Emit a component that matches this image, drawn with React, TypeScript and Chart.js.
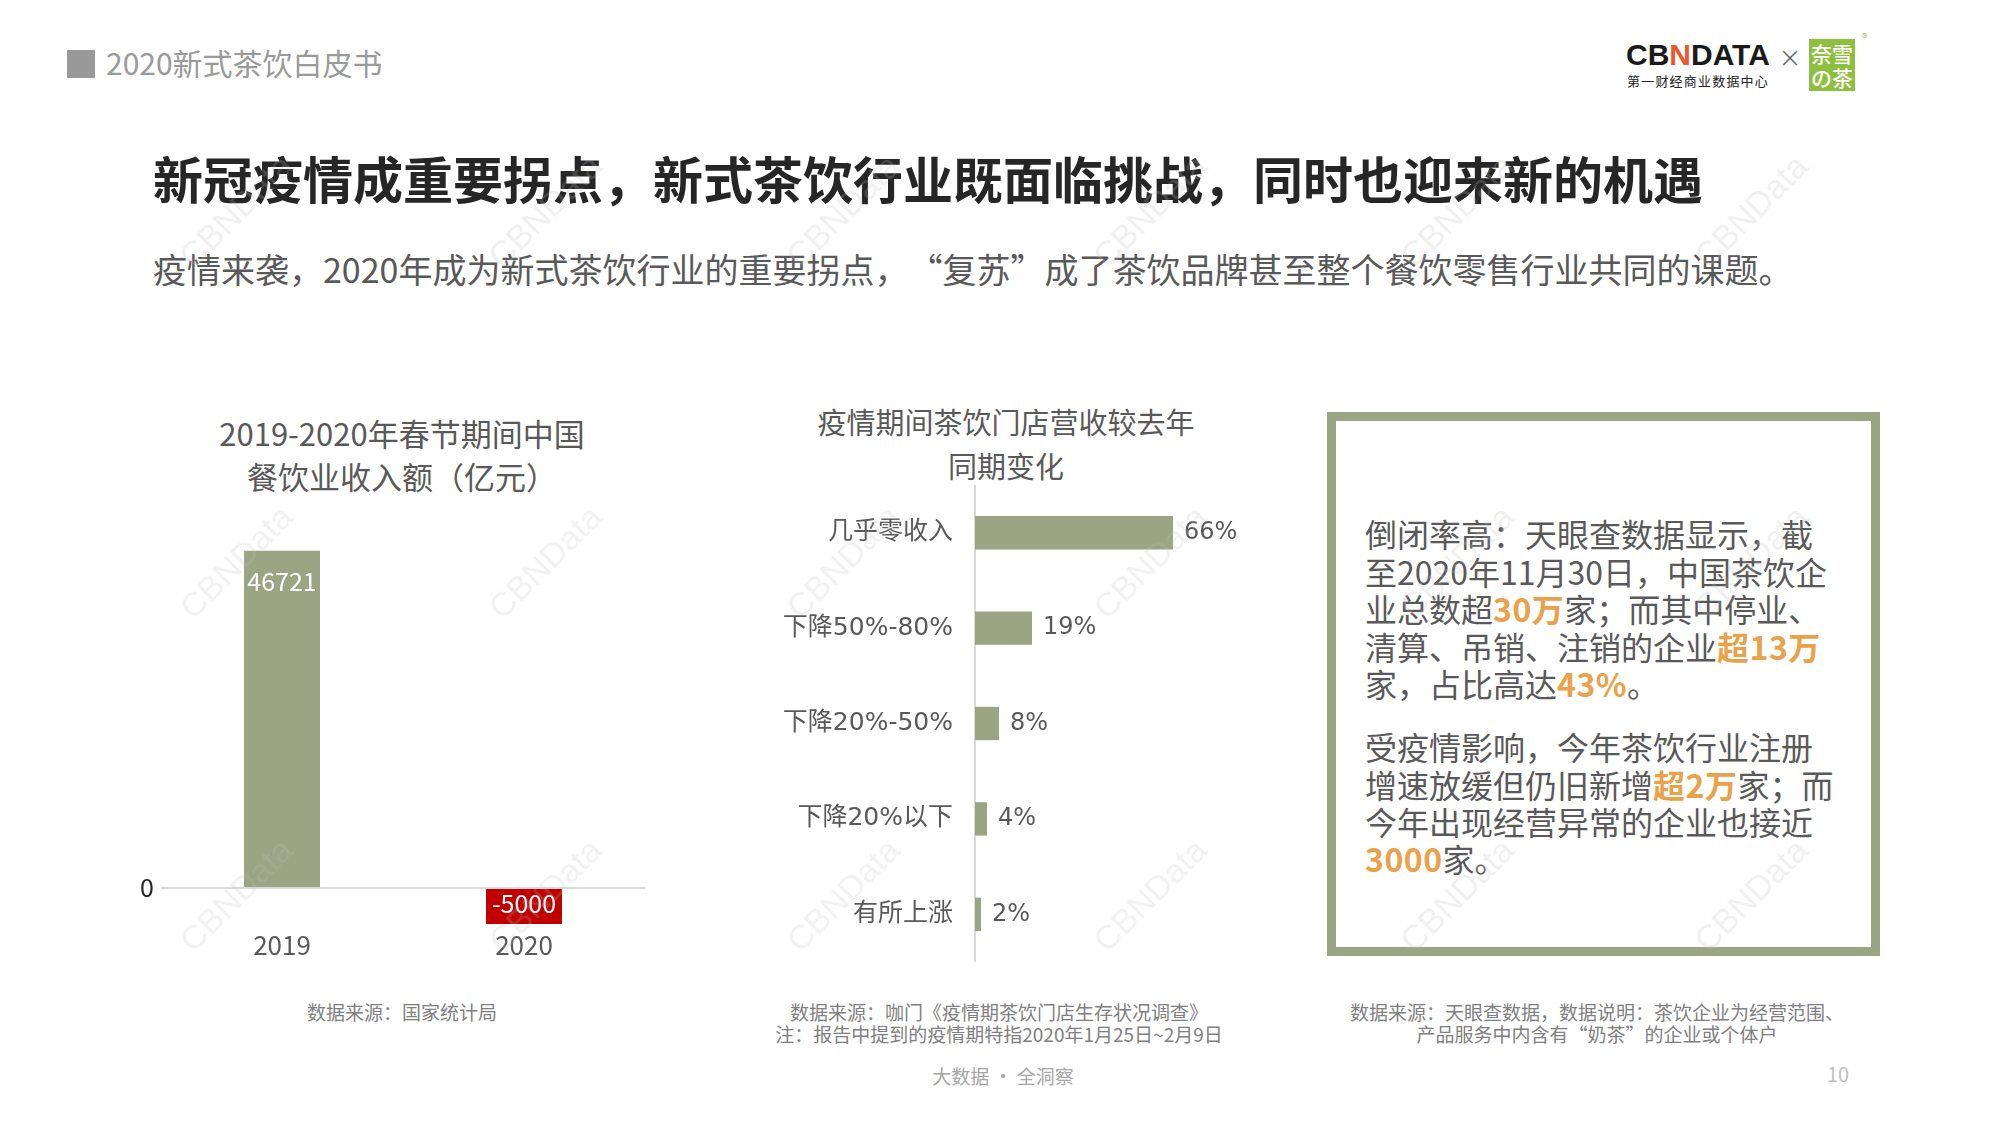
import React, { useEffect, useRef } from 'react';
import { Chart, registerables } from 'chart.js';

Chart.register(...registerables);

const FONT = "'Noto Sans CJK SC', 'Noto Sans', sans-serif";
const NUM_FONT = "'DejaVu Sans', 'Noto Sans CJK SC', sans-serif";

// ---- data ----
const revenueYears = ['2019', '2020'];
const revenueValues = [46721, -5000];
const revenueColors = ['#9ca583', '#c00000'];

const changeCategories = ['几乎零收入', '下降50%-80%', '下降20%-50%', '下降20%以下', '有所上涨'];
const changeValues = [66, 19, 8, 4, 2];

const revenueTitle = ['2019-2020年春节期间中国', '餐饮业收入额（亿元）'];
const changeTitle = ['疫情期间茶饮门店营收较去年', '同期变化'];

type Seg = [string, boolean];
const para1: Seg[][] = [
  [['倒闭率高：天眼查数据显示，截', false]],
  [['至2020年11月30日，中国茶饮企', false]],
  [['业总数超', false], ['30万', true], ['家；而其中停业、', false]],
  [['清算、吊销、注销的企业', false], ['超13万', true]],
  [['家，占比高达', false], ['43%', true], ['。', false]],
];
const para2: Seg[][] = [
  [['受疫情影响，今年茶饮行业注册', false]],
  [['增速放缓但仍旧新增', false], ['超2万', true], ['家；而', false]],
  [['今年出现经营异常的企业也接近', false]],
  [['3000', true], ['家。', false]],
];

const GREEN = '#9ca583';
const ORANGE = '#e9a24a';

function T({ x, y, size, color, weight = 400, align = 'left', children, lh, spacing, family }: any) {
  const lineH = lh ?? Math.round(size * 1.3);
  const style: React.CSSProperties = {
    position: 'absolute',
    top: y - lineH / 2 - size * 0.056,
    fontSize: size,
    lineHeight: `${lineH}px`,
    color,
    fontWeight: weight,
    whiteSpace: 'nowrap',
    letterSpacing: spacing,
    fontFamily: family ?? FONT,
  };
  if (align === 'center') {
    style.left = x;
    style.transform = 'translateX(-50%)';
  } else {
    style.left = x;
  }
  return <div style={style}>{children}</div>;
}

const revenueLabelPlugin = {
  id: 'revenueLabels',
  afterDatasetsDraw(chart: any) {
    const ctx = chart.ctx;
    const meta = chart.getDatasetMeta(0);
    const data = chart.data.datasets[0].data;
    ctx.save();
    ctx.font = `25px ${FONT}`;
    ctx.fillStyle = '#ffffff';
    ctx.textAlign = 'center';
    ctx.textBaseline = 'middle';
    meta.data.forEach((el: any, i: number) => {
      const v = data[i];
      const y = v >= 0 ? el.y + 31 : el.y - 21;
      ctx.fillText(String(v), el.x, y);
    });
    ctx.restore();
  },
};

const changeLabelPlugin = {
  id: 'changeLabels',
  afterDatasetsDraw(chart: any) {
    const ctx = chart.ctx;
    const meta = chart.getDatasetMeta(0);
    const data = chart.data.datasets[0].data;
    ctx.save();
    ctx.font = `24px ${NUM_FONT}`;
    ctx.fillStyle = '#595959';
    ctx.textAlign = 'left';
    ctx.textBaseline = 'middle';
    meta.data.forEach((el: any, i: number) => {
      ctx.fillText(`${data[i]}%`, el.x + 11, el.y);
    });
    ctx.restore();
  },
};

function RevenueChart() {
  const ref = useRef<HTMLCanvasElement>(null);
  useEffect(() => {
    const chart = new Chart(ref.current as HTMLCanvasElement, {
      type: 'bar',
      data: {
        labels: revenueYears,
        datasets: [
          {
            data: revenueValues,
            backgroundColor: revenueColors,
            barPercentage: 0.314,
            categoryPercentage: 1,
          },
        ],
      },
      options: {
        animation: false,
        responsive: false,
        maintainAspectRatio: false,
        layout: { padding: { top: 27, right: 15, left: 0, bottom: 0 } },
        plugins: { legend: { display: false }, tooltip: { enabled: false }, title: { display: false } },
        scales: {
          x: {
            grid: { display: false },
            border: { display: false },
            ticks: { color: '#595959', font: { family: FONT, size: 26 }, padding: -2 },
            afterFit: (s: any) => {
              s.height = 46;
              s.paddingLeft = 0;
              s.paddingRight = 0;
            },
          },
          y: {
            min: -5000,
            max: 50000,
            afterBuildTicks: (a: any) => {
              a.ticks = [{ value: 0 }];
            },
            grid: { color: '#d9d9d9', lineWidth: 2, drawTicks: false },
            border: { display: false },
            ticks: { color: '#262626', font: { family: FONT, size: 25 }, padding: 7, callback: (v: any) => String(v) },
            afterFit: (s: any) => {
              s.width = 61;
              s.paddingTop = 0;
              s.paddingBottom = 0;
            },
          },
        },
      } as any,
      plugins: [revenueLabelPlugin],
    });
    return () => chart.destroy();
  }, []);
  return (
    <canvas
      ref={ref}
      width={560}
      height={470}
      style={{ position: 'absolute', left: 100, top: 500, width: 560, height: 470 }}
    />
  );
}

function ChangeChart() {
  const ref = useRef<HTMLCanvasElement>(null);
  useEffect(() => {
    const chart = new Chart(ref.current as HTMLCanvasElement, {
      type: 'bar',
      data: {
        labels: changeCategories,
        datasets: [
          {
            data: changeValues,
            backgroundColor: GREEN,
            barPercentage: 0.35,
            categoryPercentage: 1,
          },
        ],
      },
      options: {
        indexAxis: 'y',
        animation: false,
        responsive: false,
        maintainAspectRatio: false,
        layout: { padding: { top: 0, right: 25, left: 0, bottom: 0 } },
        plugins: { legend: { display: false }, tooltip: { enabled: false }, title: { display: false } },
        scales: {
          x: { display: false, min: 0, max: 100 },
          y: {
            grid: { display: false, drawTicks: false },
            border: { display: true, color: '#d9d9d9', width: 2 },
            ticks: { color: '#595959', font: { family: NUM_FONT, size: 25 }, padding: 22 },
            afterFit: (s: any) => {
              s.width = 195;
              s.paddingTop = 0;
              s.paddingBottom = 0;
            },
          },
        },
      } as any,
      plugins: [changeLabelPlugin],
    });
    return () => chart.destroy();
  }, []);
  return (
    <canvas
      ref={ref}
      width={520}
      height={477}
      style={{ position: 'absolute', left: 780, top: 485, width: 520, height: 477 }}
    />
  );
}

function Para({ lines, ys }: { lines: Seg[][]; ys: number[] }) {
  return (
    <>
      {lines.map((segs, i) => (
        <T key={i} x={1365} y={ys[i]} size={32} color="#595959" lh={37}>
          {segs.map(([t, hl], j) =>
            hl ? (
              <span key={j} style={{ color: ORANGE, fontWeight: 700, letterSpacing: '0.5px' }}>
                {t}
              </span>
            ) : (
              <span key={j}>{t}</span>
            )
          )}
        </T>
      ))}
    </>
  );
}

const wmCols = [236, 545, 843, 1150, 1457, 1751];
const wmRows = [211, 562, 895];

export default function App() {
  return (
    <div
      style={{
        position: 'absolute',
        left: 0,
        top: 0,
        width: 2001,
        height: 1125,
        background: '#ffffff',
        overflow: 'hidden',
        fontFamily: FONT,
      }}
    >
      {/* header */}
      <div style={{ position: 'absolute', left: 67, top: 50, width: 28, height: 28, background: '#999999' }} />
      <T x={106} y={64.5} size={30} color="#9a9a9a">
        2020新式茶饮白皮书
      </T>

      {/* logo */}
      <div
        style={{
          position: 'absolute',
          left: 1626,
          top: 40,
          fontFamily: "'Liberation Sans', Arial, sans-serif",
          fontWeight: 700,
          fontSize: 30,
          lineHeight: '30px',
          color: '#1a1a1a',
          whiteSpace: 'nowrap',
        }}
      >
        CB<span style={{ color: '#e8582c' }}>N</span>DATA
      </div>
      <T x={1627} y={81} size={13} color="#222222" spacing="1.2px">
        第一财经商业数据中心
      </T>
      <T x={1790} y={60} size={28} color="#666666" weight={300} align="center" family="'DejaVu Sans', sans-serif">
        ×
      </T>
      <div
        style={{
          position: 'absolute',
          left: 1809,
          top: 39,
          width: 46,
          height: 52,
          background: '#8dc03f',
          color: '#ffffff',
          fontSize: 21,
          lineHeight: '24px',
          textAlign: 'center',
          paddingTop: 2,
          boxSizing: 'border-box',
          fontWeight: 500,
          whiteSpace: 'nowrap',
        }}
      >
        奈雪
        <br />
        の茶
      </div>
      <T x={1862} y={38} size={11} color="#8dc03f">
        ®
      </T>

      {/* titles */}
      <T x={153} y={180} size={50} weight={700} color="#262626">
        新冠疫情成重要拐点，新式茶饮行业既面临挑战，同时也迎来新的机遇
      </T>
      <T x={153} y={271} size={34} color="#595959">
        疫情来袭，2020年成为新式茶饮行业的重要拐点，<span style={{ paddingLeft: '0.5em' }}>“</span>复苏”成了茶饮品牌甚至整个餐饮零售行业共同的课题。
      </T>

      {/* left chart */}
      <T x={402} y={435} size={31} color="#595959" align="center">
        {revenueTitle[0]}
      </T>
      <T x={402} y={478} size={31} color="#595959" align="center">
        {revenueTitle[1]}
      </T>
      <RevenueChart />

      {/* middle chart */}
      <T x={1006} y={423} size={29} color="#595959" align="center">
        {changeTitle[0]}
      </T>
      <T x={1006} y={467} size={29} color="#595959" align="center">
        {changeTitle[1]}
      </T>
      <ChangeChart />

      {/* text box */}
      <div
        style={{
          position: 'absolute',
          left: 1327,
          top: 412,
          width: 553,
          height: 544,
          border: `9px solid ${GREEN}`,
          boxSizing: 'border-box',
        }}
      />
      <Para lines={para1} ys={[535.5, 573, 610.5, 648, 685.5]} />
      <Para lines={para2} ys={[748.5, 786, 823, 860]} />

      {/* sources */}
      <T x={402} y={1013} size={19} color="#808080" align="center">
        数据来源：国家统计局
      </T>
      <T x={999} y={1013} size={19} color="#808080" align="center">
        数据来源：咖门《疫情期茶饮门店生存状况调查》
      </T>
      <T x={999} y={1035} size={19} color="#808080" align="center">
        注：报告中提到的疫情期特指2020年1月25日~2月9日
      </T>
      <T x={1597} y={1013} size={19} color="#808080" align="center">
        数据来源：天眼查数据，数据说明：茶饮企业为经营范围、
      </T>
      <T x={1597} y={1035} size={19} color="#808080" align="center">
        产品服务中内含有“奶茶”的企业或个体户
      </T>

      {/* footer */}
      <T x={1003} y={1077} size={19} color="#a6a6a6" align="center">
        大数据 · 全洞察
      </T>
      <T x={1838} y={1075} size={20} color="#bfbfbf" align="center">
        10
      </T>

      {/* watermarks */}
      {wmRows.map((ry) =>
        wmCols.map((cx) => (
          <div
            key={`${cx}-${ry}`}
            style={{
              position: 'absolute',
              left: cx,
              top: ry,
              transform: 'translate(-50%, -50%) rotate(-45deg)',
              fontFamily: "'Liberation Sans', Arial, sans-serif",
              fontSize: 34,
              color: 'rgba(190,190,190,0.22)',
              whiteSpace: 'nowrap',
              pointerEvents: 'none',
            }}
          >
            CBNData
          </div>
        ))
      )}
    </div>
  );
}
